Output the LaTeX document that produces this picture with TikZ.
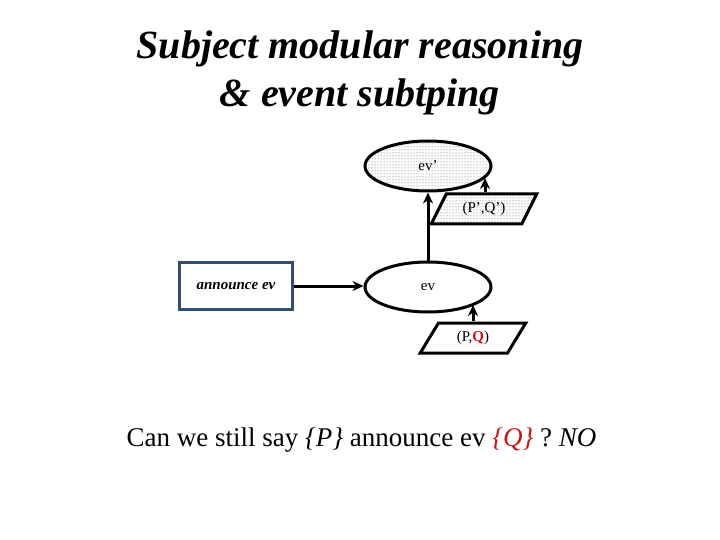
\documentclass[tikz,border=0pt]{standalone}
\usepackage{fontspec}
\setmainfont{Liberation Serif}
\usetikzlibrary{shapes.geometric,patterns,arrows.meta}
\definecolor{boxblue}{RGB}{47,78,114}
\definecolor{dred}{RGB}{200,20,20}
\begin{document}
\begin{tikzpicture}[x=1pt,y=-1pt,
  ell/.style={draw,line width=3pt,ellipse,minimum width=126pt,minimum height=50pt,inner sep=0pt,font=\fontsize{15}{17}\selectfont},
  para/.style={draw,line width=3pt,trapezium,trapezium stretches=true,trapezium left angle=58,trapezium right angle=122,minimum width=106pt,minimum height=30pt,inner sep=0pt,font=\fontsize{15}{17}\selectfont},
  dotty/.style={preaction={fill=white},pattern=dots,pattern color=gray!70!black},
  arr/.style={line width=3pt,-{Stealth[length=11pt,width=10pt]}}]
\useasboundingbox (0,0) rectangle (720,540);
\node[font=\fontsize{40}{48}\selectfont\bfseries\itshape,align=center] (title) at (360,73) {Subject modular reasoning\\\& event subtping};
\node[ell,dotty] (evp) at (428,166) {ev'};
\node[para,dotty] (pq2) at (484,209) {(P',Q')};
\node[ell] (ev) at (428,287) {ev};
\node[draw=boxblue,line width=3pt,minimum width=113pt,minimum height=47pt,font=\fontsize{15}{17}\selectfont\bfseries\itshape] (ann) at (236,286) {announce ev};
\node[para] (pq) at (473,338) {(P,\textcolor{dred}{\textbf{Q}})};
\coordinate (t1) at (485,178);
\coordinate (t2) at (473,305);
\draw[arr] (ev.north) -- (evp.south);
\draw[arr] (pq2.north -| t1) -- (t1);
\draw[arr] (ann.east) -- (ann.east -| ev.west);
\draw[arr] (pq.north -| t2) -- (t2);
\node[font=\fontsize{27}{32}\selectfont,anchor=west] (q) at (123,440) {Can we still say \textit{\{P\}} announce ev \textcolor{dred}{\textit{\{Q\}}} ? \textit{NO}};
\end{tikzpicture}
\end{document}
